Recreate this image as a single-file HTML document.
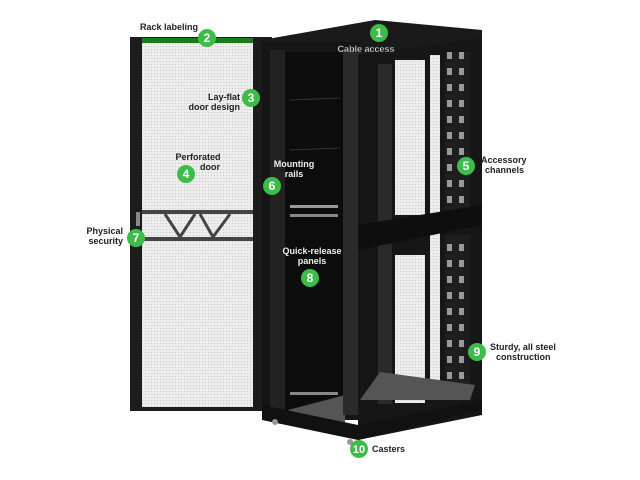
<!DOCTYPE html>
<html><head><meta charset="utf-8"><style>
html,body{margin:0;padding:0;background:#fff}
svg{display:block}
text{font-family:"Liberation Sans",sans-serif;font-weight:bold;font-size:9px}
.d{fill:#222}.w{fill:#eee}
.n{fill:#fff;font-size:12px;text-anchor:middle}
</style></head><body>
<svg width="640" height="480" viewBox="0 0 640 480">
<defs>
<pattern id="m" width="3" height="3" patternUnits="userSpaceOnUse"><rect width="3" height="3" fill="#efefef"/><circle cx="1.5" cy="1.5" r="0.8" fill="#cfcfcf"/></pattern>
<pattern id="pc" width="12" height="16" patternUnits="userSpaceOnUse"><rect width="12" height="16" fill="#1e1e1e"/><rect x="3" y="4" width="5" height="7" fill="#9a9a9a"/></pattern>
</defs>
<rect x="130" y="37" width="142" height="374" fill="#1c1c1c"/>
<rect x="142" y="42" width="111" height="365" fill="url(#m)"/>
<rect x="142" y="38" width="111" height="5" fill="#1e7a1e"/>
<rect x="142" y="210" width="111" height="4" fill="#444"/>
<rect x="142" y="237" width="111" height="4" fill="#444"/>
<path d="M165 214 L180 237 L195 214 M200 214 L213 237 L230 214" stroke="#444" stroke-width="3" fill="none"/>
<rect x="136" y="212" width="4" height="14" fill="#888"/>
<polygon points="262,40 375,20 482,30 482,40 360,58 262,46" fill="#1a1a1a"/>
<rect x="262" y="42" width="98" height="378" fill="#151515"/>
<rect x="285" y="52" width="60" height="360" fill="#0c0c0c"/>
<line x1="290" y1="100" x2="340" y2="98" stroke="#333"/>
<line x1="290" y1="150" x2="340" y2="148" stroke="#333"/>
<rect x="290" y="205" width="48" height="3" fill="#999"/>
<rect x="290" y="214" width="48" height="3" fill="#888"/>
<rect x="290" y="392" width="48" height="3" fill="#888"/>
<polygon points="288,410 345,395 345,432 300,420" fill="#555"/>
<rect x="270" y="50" width="15" height="360" fill="#222"/>
<rect x="343" y="50" width="16" height="365" fill="#2a2a2a"/>
<polygon points="358,55 482,38 482,415 358,440" fill="#161616"/>
<rect x="395" y="60" width="30" height="155" fill="url(#m)"/>
<rect x="395" y="255" width="30" height="148" fill="url(#m)"/>
<rect x="378" y="64" width="14" height="340" fill="#2a2a2a"/>
<rect x="430" y="55" width="10" height="345" fill="url(#m)"/>
<rect x="445" y="52" width="25" height="160" fill="url(#pc)"/>
<rect x="445" y="235" width="25" height="165" fill="url(#pc)"/>
<polygon points="358,225 482,205 482,225 358,250" fill="#0e0e0e"/>
<polygon points="360,400 380,372 475,385 470,400" fill="#555"/>
<polygon points="262,405 358,425 482,400 482,410 358,440 262,420" fill="#111"/>
<circle cx="275" cy="422" r="3" fill="#999"/><circle cx="350" cy="442" r="3" fill="#999"/>
<text x="140" y="30" class="d">Rack labeling</text>
<text x="366" y="52" class="w" text-anchor="middle" stroke="#333" stroke-width="0.4">Cable access</text>
<text x="240" y="100" class="d" text-anchor="end">Lay-flat</text>
<text x="240" y="110" class="d" text-anchor="end">door design</text>
<text x="198" y="160" class="d" text-anchor="middle">Perforated</text>
<text x="210" y="170" class="d" text-anchor="middle">door</text>
<text x="481" y="163" class="d">Accessory</text>
<text x="485" y="173" class="d">channels</text>
<text x="294" y="167" class="w" text-anchor="middle">Mounting</text>
<text x="294" y="177" class="w" text-anchor="middle">rails</text>
<text x="123" y="234" class="d" text-anchor="end">Physical</text>
<text x="123" y="244" class="d" text-anchor="end">security</text>
<text x="312" y="254" class="w" text-anchor="middle">Quick-release</text>
<text x="312" y="264" class="w" text-anchor="middle">panels</text>
<text x="490" y="350" class="d">Sturdy, all steel</text>
<text x="496" y="360" class="d">construction</text>
<text x="372" y="452" class="d">Casters</text>
<g fill="#3ebc4a">
<circle cx="379" cy="33" r="9"/><circle cx="207" cy="38" r="9"/><circle cx="251" cy="98" r="9"/>
<circle cx="186" cy="174" r="9"/><circle cx="466" cy="166" r="9"/><circle cx="272" cy="186" r="9"/>
<circle cx="136" cy="238" r="9"/><circle cx="310" cy="278" r="9"/><circle cx="477" cy="352" r="9"/>
<circle cx="359" cy="449" r="9"/></g>
<text x="379" y="37" class="n">1</text><text x="207" y="42" class="n">2</text><text x="251" y="102" class="n">3</text>
<text x="186" y="178" class="n">4</text><text x="466" y="170" class="n">5</text><text x="272" y="190" class="n">6</text>
<text x="136" y="242" class="n">7</text><text x="310" y="282" class="n">8</text><text x="477" y="356" class="n">9</text>
<text x="359" y="453" class="n" style="font-size:11px">10</text>
</svg>
</body></html>
